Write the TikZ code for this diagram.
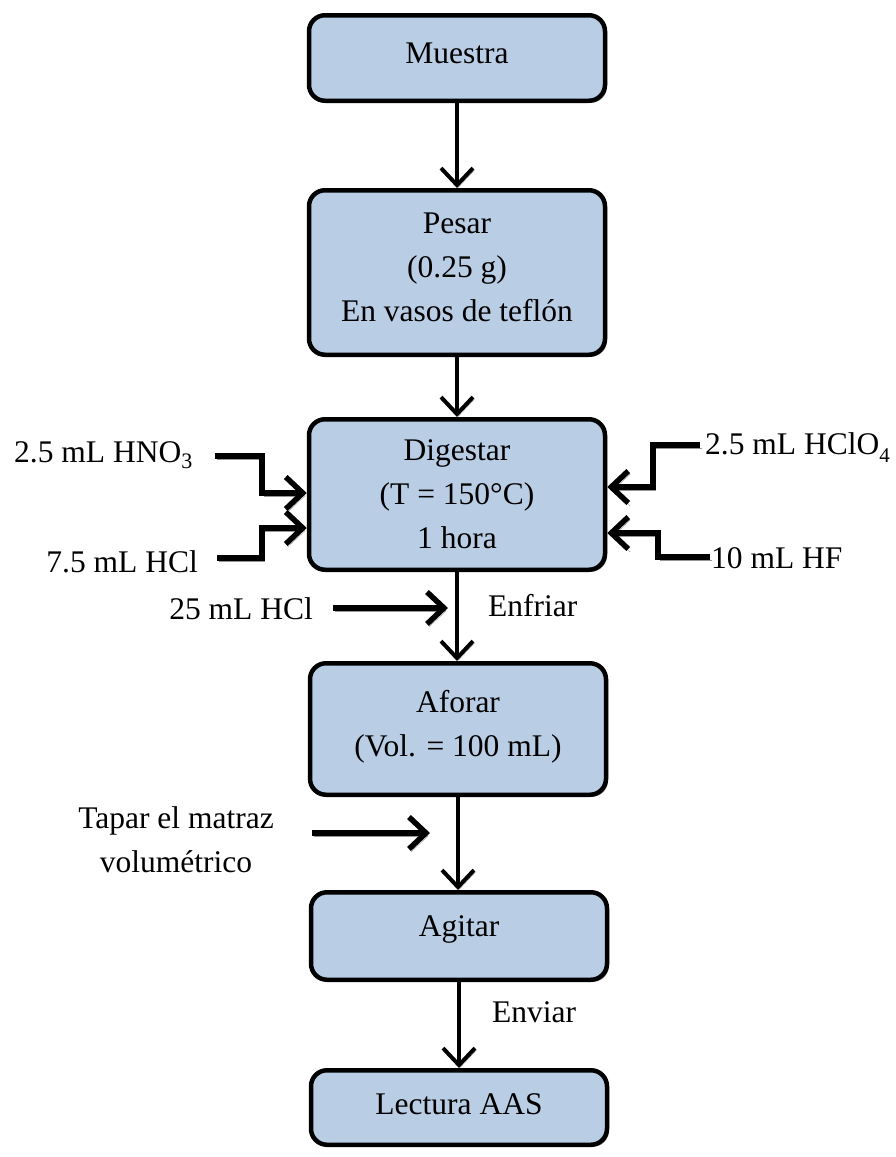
\documentclass[tikz,border=0pt]{standalone}
\usepackage{fontspec}
\setmainfont{Liberation Serif}
\usetikzlibrary{arrows.meta,shadows}
\definecolor{boxblue}{RGB}{185,205,229}
\definecolor{shadowgray}{RGB}{150,150,150}
\begin{document}
\begin{tikzpicture}[x=1pt,y=-1pt,
  every node/.style={font=\fontsize{31.5}{44}\selectfont, text=black},
  stepbox/.style={draw=black, line width=4.5pt, fill=boxblue, rounded corners=16pt,
    minimum width=296pt, align=center, inner sep=0pt,
    drop shadow={shadow xshift=2pt, shadow yshift=-2pt, fill=shadowgray, opacity=1}},
  tip/.style={-{Straight Barb[length=17pt,width=32pt]}},
  mainarrow/.style={line width=4pt, tip,
    preaction={draw=shadowgray, tip, transform canvas={shift={(1.5pt,-2pt)}}}},
  sidearrow/.style={line width=5.5pt, tip,
    preaction={draw=shadowgray, tip, transform canvas={shift={(2pt,-3pt)}}}},
  lbl/.style={inner sep=0pt}
]
\useasboundingbox (0,0) rectangle (896,1157);

% process boxes
\node[stepbox, minimum height=85.5pt, text depth=10pt] (muestra) at (457,58) {Muestra};
\node[stepbox, minimum height=164.5pt, text depth=10pt] (pesar) at (457,272.5) {Pesar\\(0.25 g)\\En vasos de teflón};
\node[stepbox, minimum height=150.5pt] (digestar) at (457,494.5) {Digestar\\(T = 150°C)\\1 hora};
\node[stepbox, minimum height=131.5pt, text depth=12pt] (aforar) at (458,729) {Aforar\\(Vol. = 100 mL)};
\node[stepbox, minimum height=87.5pt, text depth=20pt] (agitar) at (459,936) {Agitar};
\node[stepbox, minimum height=74.5pt, text depth=7pt] (lectura) at (459,1107.5) {Lectura AAS};

% main flow
\draw[mainarrow] (muestra.south) -- (muestra.south |- pesar.north);
\draw[mainarrow] (pesar.south) -- (pesar.south |- digestar.north);
\draw[mainarrow] (digestar.south) -- (digestar.south |- aforar.north);
\draw[mainarrow] (aforar.south) -- (aforar.south |- agitar.north);
\draw[mainarrow] (agitar.south) -- (agitar.south |- lectura.north);

% reagent labels
\node[lbl, anchor=base east] (hno3) at (193,462) {2.5 mL HNO\textsubscript{3}};
\node[lbl, anchor=base east] (hcl) at (198,572) {7.5 mL HCl};
\node[lbl, anchor=base west] (hclo4) at (705,454) {2.5 mL HClO\raisebox{-0.6ex}{\fontsize{21}{21}\selectfont 4}};
\node[lbl, anchor=base west] (hf) at (711,568) {10 mL HF};
\node[lbl, anchor=base east] (hcl25) at (313,619) {25 mL HCl};
\node[lbl, anchor=base west] (enfriar) at (488,616) {Enfriar};
\node[lbl, align=center] (tapar) at (176,840) {Tapar el matraz\\volumétrico};
\node[lbl, anchor=base west] (enviar) at (492,1022) {Enviar};

% reagent arrow ends
\coordinate (hno3s) at (215,456);
\coordinate (hcls) at (217,558);
\coordinate (hclo4s) at (700,445);
\coordinate (hfs) at (710,557);
\coordinate (hcl25s) at (333,608);
\coordinate (hcl25e) at (448,608);
\coordinate (taps) at (312,833);
\coordinate (tape) at (430,833);

\draw[sidearrow] (hno3s) -| (262,493) -- (digestar.west |- 0,493);
\draw[sidearrow] (hcls) -| (262,528) -- (digestar.west |- 0,528);
\draw[sidearrow] (hclo4s) -| (653,487) -- (digestar.east |- 0,487);
\draw[sidearrow] (hfs) -| (658,533) -- (digestar.east |- 0,533);
\draw[sidearrow] (hcl25s) -- (hcl25e);
\draw[sidearrow] (taps) -- (tape);
\end{tikzpicture}
\end{document}
